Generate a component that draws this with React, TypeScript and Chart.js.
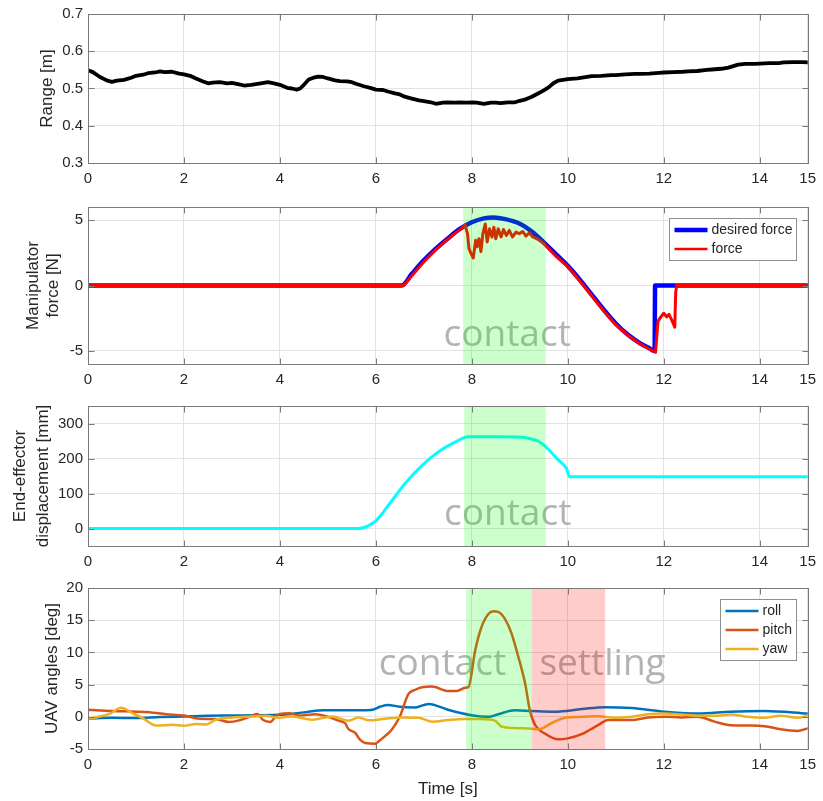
import React, { useEffect, useRef } from "react";
import { Chart, registerables } from "chart.js";

Chart.register(...registerables);

// ---------- data ----------
const X_TICKS = [0, 2, 4, 6, 8, 10, 12, 14, 15];

const rangeTime = [
  0, 0.1, 0.25, 0.4, 0.5, 0.6, 0.75, 0.9, 1.0, 1.15, 1.25, 1.4, 1.5, 1.6, 1.75, 1.9, 2.0, 2.15, 2.25, 2.4,
  2.5, 2.6, 2.75, 2.9, 3.0, 3.15, 3.25, 3.4, 3.5, 3.6, 3.75, 3.9, 4.0, 4.15, 4.25, 4.35, 4.42, 4.5, 4.6, 4.7,
  4.8, 4.9, 5.0, 5.15, 5.25, 5.4, 5.5, 5.6, 5.75, 5.9, 6.0, 6.15, 6.25, 6.4, 6.5, 6.6, 6.75, 6.9, 7.0, 7.15,
  7.25, 7.4, 7.5, 7.65, 7.75, 7.9, 8.0, 8.1, 8.25, 8.4, 8.5, 8.6, 8.75, 8.9, 9.0, 9.1, 9.25, 9.4, 9.5, 9.6,
  9.7, 9.8, 9.9, 10.0, 10.2, 10.4, 10.5, 10.7, 10.9, 11.0, 11.2, 11.4, 11.5, 11.7, 11.9, 12.0, 12.2, 12.4, 12.5, 12.7,
  12.9, 13.0, 13.2, 13.35, 13.45, 13.55, 13.7, 13.9, 14.0, 14.2, 14.4, 14.5, 14.7, 14.9, 15.0,
];
const rangeValue = [
  0.549, 0.544, 0.531, 0.521, 0.518, 0.521, 0.523, 0.529, 0.534, 0.537, 0.541, 0.543, 0.546, 0.544, 0.545, 0.54, 0.538, 0.533, 0.527, 0.519,
  0.514, 0.516, 0.517, 0.514, 0.515, 0.511, 0.508, 0.51, 0.512, 0.514, 0.517, 0.513, 0.51, 0.502, 0.5, 0.497, 0.5, 0.51, 0.524, 0.529,
  0.532, 0.531, 0.527, 0.522, 0.52, 0.519, 0.517, 0.512, 0.506, 0.501, 0.497, 0.496, 0.492, 0.487, 0.484, 0.478, 0.473, 0.468, 0.466, 0.463,
  0.459, 0.462, 0.463, 0.462, 0.463, 0.462, 0.463, 0.462, 0.459, 0.462, 0.462, 0.461, 0.463, 0.463, 0.467, 0.47, 0.478, 0.488, 0.495, 0.503,
  0.514, 0.521, 0.523, 0.525, 0.527, 0.531, 0.533, 0.534, 0.536, 0.536, 0.538, 0.539, 0.539, 0.54, 0.542, 0.543, 0.544, 0.545, 0.546, 0.547,
  0.55, 0.551, 0.553, 0.556, 0.56, 0.564, 0.566, 0.566, 0.567, 0.568, 0.568, 0.57, 0.571, 0.571, 0.57,
];

const desiredForceTime = [0, 6.54, 6.75, 7.0, 7.25, 7.5, 7.75, 8.0, 8.25, 8.45, 8.7, 9.0, 9.25, 9.5, 9.75, 10.0, 10.25, 10.5, 10.75, 11.0, 11.25, 11.5, 11.7, 11.81, 11.82, 15];
const desiredForceValue = [0, 0, 0.89, 1.92, 2.82, 3.6, 4.32, 4.83, 5.13, 5.2, 5.07, 4.72, 4.12, 3.3, 2.4, 1.5, 0.45, -0.7, -1.85, -2.9, -3.75, -4.4, -4.8, -5.0, 0, 0];

const forceTime = [
  0, 6.58, 6.75, 7.0, 7.25, 7.5, 7.75, 7.86, 7.91, 7.94, 7.98, 8.03, 8.08, 8.11, 8.15, 8.19, 8.23, 8.28, 8.32, 8.37,
  8.42, 8.46, 8.5, 8.55, 8.61, 8.66, 8.72, 8.78, 8.85, 8.92, 8.99, 9.06, 9.13, 9.2, 9.27, 9.37, 9.5, 9.75, 10.0, 10.25,
  10.5, 10.75, 11.0, 11.25, 11.5, 11.7, 11.83, 11.88, 11.94, 12.0, 12.06, 12.11, 12.18, 12.23, 12.25, 12.27, 15,
];
const forceValue = [
  0, 0, 0.75, 1.82, 2.74, 3.54, 4.27, 4.62, 3.96, 2.84, 2.47, 2.1, 3.46, 2.96, 3.58, 2.59, 3.96, 4.7, 3.33, 4.33,
  3.71, 4.46, 3.58, 4.33, 3.71, 4.28, 3.83, 4.21, 3.71, 4.08, 3.96, 4.13, 3.78, 4.03, 3.71, 3.55, 3.2, 2.25, 1.45, 0.35,
  -0.8, -1.95, -3.0, -3.8, -4.45, -4.85, -5.1, -2.74, -2.4, -2.12, -2.4, -2.2, -2.74, -3.18, -0.5, 0, 0,
];

const displacementTime = [0, 5.64, 5.8, 5.92, 6.0, 6.13, 6.33, 6.61, 6.96, 7.3, 7.65, 7.93, 8.1, 8.5, 9.04, 9.2, 9.38, 9.52, 9.66, 9.8, 9.97, 10.04, 15];
const displacementValue = [0, 0, 5, 14, 22, 42, 79, 129, 180, 219, 247, 262, 262, 262, 261, 257, 250, 236, 217, 196, 172, 148, 148];

const rollTime = [0, 0.5, 1.0, 1.5, 2.0, 2.5, 3.0, 3.5, 4.0, 4.3, 4.6, 4.9, 5.3, 5.9, 6.1, 6.25, 6.5, 6.82, 7.1, 7.5, 7.99, 8.35, 8.55, 8.9, 9.25, 9.73, 10.29, 10.77, 11.33, 12.02, 12.71, 13.4, 14.1, 15];
const rollValue = [-0.25, -0.15, -0.2, -0.05, 0.05, 0.15, 0.2, 0.25, 0.3, 0.5, 0.8, 1.0, 1.0, 1.05, 1.6, 1.85, 1.55, 1.45, 2.0, 1.1, 0.25, 0.0, 0.4, 1.0, 0.9, 0.8, 1.2, 1.5, 1.35, 0.8, 0.5, 0.8, 0.9, 0.5];

const pitchTime = [
  0, 0.5, 1.0, 1.28, 1.63, 2.0, 2.32, 2.66, 2.94, 3.15, 3.4, 3.53, 3.65, 3.8, 3.92, 4.0, 4.19, 4.39, 4.74, 4.98,
  5.22, 5.36, 5.43, 5.57, 5.67, 5.78, 5.99, 6.06, 6.19, 6.33, 6.5, 6.68, 6.82, 6.96, 7.17, 7.51, 7.69, 7.86, 7.93, 8.07,
  8.2, 8.35, 8.45, 8.55, 8.69, 8.83, 8.97, 9.11, 9.21, 9.32, 9.52, 9.8, 10.0, 10.29, 10.63, 10.84, 11.33, 11.67, 12.02, 12.37,
  12.71, 13.06, 13.4, 13.75, 14.1, 14.44, 14.79, 15,
];
const pitchValue = [
  1.1, 0.9, 0.8, 0.7, 0.4, 0.2, -0.3, -0.35, -0.8, -0.55, 0.1, 0.45, -0.5, -0.8, 0.1, 0.45, 0.55, 0.2, 0.4, 0.05,
  -0.6, -1.0, -1.9, -2.5, -3.55, -4.07, -4.17, -3.8, -3.0, -2.0, 0.05, 3.55, 4.2, 4.6, 4.7, 4.0, 4.0, 4.5, 4.6, 10.3,
  13.9, 16.0, 16.4, 16.3, 15.2, 12.9, 9.3, 5.2, 1.0, -1.3, -2.6, -3.5, -3.35, -2.7, -1.3, -0.5, -0.5, -0.1, 0, -0.1,
  0, -0.75, -1.3, -1.35, -1.45, -1.95, -2.2, -1.8,
];

const yawTime = [
  0, 0.24, 0.45, 0.69, 0.93, 1.14, 1.42, 1.76, 2.0, 2.25, 2.46, 2.66, 3.01, 3.43, 3.7, 3.98, 4.26, 4.67, 5.09, 5.43,
  5.64, 5.85, 6.19, 6.54, 6.89, 7.17, 7.51, 7.86, 8.2, 8.48, 8.62, 8.9, 9.25, 9.39, 9.66, 9.94, 10.29, 10.63, 10.98, 11.33,
  11.67, 12.02, 12.37, 12.71, 13.06, 13.4, 13.75, 14.1, 14.44, 14.79, 15,
];
const yawValue = [
  -0.3, 0.05, 0.45, 1.4, 0.55, -0.2, -1.35, -1.25, -1.4, -1.1, -1.2, -0.45, -0.1, 0.05, 0.15, -0.15, 0.05, -0.45, 0.05, -0.6,
  -0.1, -0.55, -0.3, -0.1, -0.15, -0.75, -0.5, -0.35, -0.35, -0.6, -1.5, -1.75, -1.85, -1.95, -1.0, -0.15, 0, 0.1, -0.15, 0,
  0.4, 0.5, 0.35, 0.15, 0.15, 0.35, 0, -0.15, 0.15, -0.15, 0.15,
];

// phase intervals [start, end] in seconds
const forceContact = [7.82, 9.54];
const displacementContact = [7.84, 9.54];
const anglesContact = [7.88, 9.25];
const anglesSettling = [9.25, 10.78];

// ---------- styling ----------
const W = 823;
const FONT = "'Liberation Sans', Arial, Helvetica, sans-serif";
const NOTE_FONT = "'Open Sans', 'DejaVu Sans', sans-serif";
const TEXT = "#262626";
const GRID = "#e3e3e3";
const BOX = "#7a7a7a";
const GREEN = "rgba(0,255,0,0.2)";
const RED = "rgba(255,0,0,0.2)";
const NOTE = "#b3b3b3";
const AREA_LEFT = 88;
const AREA_RIGHT_PAD = 12;

type Series = { label: string; t: number[]; v: number[]; color: string; width: number; legendWidth: number; smooth: boolean; order: number };
type Band = { range: number[]; color: string };
type Note = { text: string; x: number; y: number };
type PanelSpec = {
  top: number;
  height: number;
  padTop: number;
  bottomH: number;
  yMin: number;
  yMax: number;
  yTicks: number[];
  yDecimals: number;
  yTitle: string[];
  yTitleX: number[];
  series: Series[];
  bands: Band[];
  notes: Note[];
  legend: boolean;
  xTitle?: string;
};

const PANELS: PanelSpec[] = [
  {
    top: 0, height: 193, padTop: 12, bottomH: 30,
    yMin: 0.3, yMax: 0.7, yTicks: [0.3, 0.4, 0.5, 0.6, 0.7], yDecimals: 1,
    yTitle: ["Range [m]"], yTitleX: [47],
    series: [{ label: "range", t: rangeTime, v: rangeValue, color: "#000000", width: 3.8, legendWidth: 3.8, smooth: false, order: 0 }],
    bands: [], notes: [], legend: false,
  },
  {
    top: 193, height: 199, padTop: 10, bottomH: 28,
    yMin: -6, yMax: 6, yTicks: [-5, 0, 5], yDecimals: 0,
    yTitle: ["Manipulator", "force [N]"], yTitleX: [33, 53],
    series: [
      { label: "desired force", t: desiredForceTime, v: desiredForceValue, color: "#0000ff", width: 4.5, legendWidth: 4.5, smooth: true, order: 1 },
      { label: "force", t: forceTime, v: forceValue, color: "#ff0000", width: 3, legendWidth: 2.5, smooth: false, order: 0 },
    ],
    bands: [{ range: forceContact, color: GREEN }],
    notes: [{ text: "contact", x: 7.41, y: -4.6 }],
    legend: true,
  },
  {
    top: 392, height: 182, padTop: 10, bottomH: 28,
    yMin: -50, yMax: 350, yTicks: [0, 100, 200, 300], yDecimals: 0,
    yTitle: ["End-effector", "displacement [mm]"], yTitleX: [20, 43],
    series: [{ label: "displacement", t: displacementTime, v: displacementValue, color: "#00ffff", width: 3, legendWidth: 3, smooth: true, order: 0 }],
    bands: [{ range: displacementContact, color: GREEN }],
    notes: [{ text: "contact", x: 7.42, y: 9 }],
    legend: false,
  },
  {
    top: 574, height: 227, padTop: 13, bottomH: 52,
    yMin: -5, yMax: 20, yTicks: [-5, 0, 5, 10, 15, 20], yDecimals: 0,
    yTitle: ["UAV angles [deg]"], yTitleX: [52],
    series: [
      { label: "roll", t: rollTime, v: rollValue, color: "#0072BD", width: 2.5, legendWidth: 2.5, smooth: true, order: 2 },
      { label: "pitch", t: pitchTime, v: pitchValue, color: "#D95319", width: 2.5, legendWidth: 2.5, smooth: true, order: 1 },
      { label: "yaw", t: yawTime, v: yawValue, color: "#EDB120", width: 2.5, legendWidth: 2.5, smooth: true, order: 0 },
    ],
    bands: [
      { range: anglesContact, color: GREEN },
      { range: anglesSettling, color: RED },
    ],
    notes: [
      { text: "contact", x: 6.06, y: 6.44 },
      { text: "settling", x: 9.41, y: 6.44 },
    ],
    legend: true,
    xTitle: "Time [s]",
  },
];

function makeDecorations(spec: PanelSpec) {
  return {
    id: "panelDecorations",
    beforeDatasetsDraw(chart: any) {
      const { ctx, scales } = chart;
      ctx.save();
      ctx.font = `37px ${NOTE_FONT}`;
      ctx.fillStyle = NOTE;
      ctx.textAlign = "left";
      ctx.textBaseline = "alphabetic";
      for (const n of spec.notes) {
        ctx.fillText(n.text, scales.x.getPixelForValue(n.x), scales.y.getPixelForValue(n.y));
      }
      ctx.restore();
    },
    afterDatasetsDraw(chart: any) {
      const { ctx, chartArea: a, scales } = chart;
      ctx.save();
      // shaded phases
      for (const b of spec.bands) {
        const x0 = scales.x.getPixelForValue(b.range[0]);
        const x1 = scales.x.getPixelForValue(b.range[1]);
        ctx.fillStyle = b.color;
        ctx.fillRect(x0, a.top, x1 - x0, a.bottom - a.top);
      }
      // axes box with inward tick marks
      ctx.strokeStyle = BOX;
      ctx.lineWidth = 1;
      const L = Math.round(a.left) + 0.5, R = Math.round(a.right) + 0.5;
      const T = Math.round(a.top) + 0.5, B = Math.round(a.bottom) + 0.5;
      ctx.strokeRect(L, T, R - L, B - T);
      const tl = 6;
      ctx.beginPath();
      for (const v of X_TICKS) {
        const px = Math.round(scales.x.getPixelForValue(v)) + 0.5;
        ctx.moveTo(px, B); ctx.lineTo(px, B - tl);
        ctx.moveTo(px, T); ctx.lineTo(px, T + tl);
      }
      for (const v of spec.yTicks) {
        const py = Math.round(scales.y.getPixelForValue(v)) + 0.5;
        ctx.moveTo(L, py); ctx.lineTo(L + tl, py);
        ctx.moveTo(R, py); ctx.lineTo(R - tl, py);
      }
      ctx.stroke();
      // legend box
      if (spec.legend) {
        ctx.font = `14px ${FONT}`;
        const maxW = Math.max(...spec.series.map((s) => ctx.measureText(s.label).width));
        const bw = Math.round(42 + maxW + 4);
        const bh = Math.round(23 + (spec.series.length - 1) * 19);
        const bx = Math.round(a.right - 12 - bw) + 0.5;
        const by = Math.round(a.top + 11) + 0.5;
        ctx.fillStyle = "#ffffff";
        ctx.fillRect(bx, by, bw, bh);
        ctx.strokeStyle = "#8f8f8f";
        ctx.strokeRect(bx, by, bw, bh);
        spec.series.forEach((s, i) => {
          const ry = by + 11.5 + i * 19;
          ctx.strokeStyle = s.color;
          ctx.lineWidth = s.legendWidth;
          ctx.beginPath();
          ctx.moveTo(bx + 5, ry);
          ctx.lineTo(bx + 38, ry);
          ctx.stroke();
          ctx.fillStyle = TEXT;
          ctx.textAlign = "left";
          ctx.textBaseline = "middle";
          ctx.fillText(s.label, bx + 42, ry + 0.5);
        });
      }
      ctx.restore();
    },
    afterDraw(chart: any) {
      const { ctx, chartArea: a } = chart;
      ctx.save();
      ctx.fillStyle = TEXT;
      ctx.font = `17px ${FONT}`;
      ctx.textAlign = "center";
      ctx.textBaseline = "middle";
      const cy = (a.top + a.bottom) / 2;
      spec.yTitle.forEach((line, i) => {
        ctx.save();
        ctx.translate(spec.yTitleX[i], cy);
        ctx.rotate(-Math.PI / 2);
        ctx.fillText(line, 0, 0);
        ctx.restore();
      });
      if (spec.xTitle) {
        ctx.fillText(spec.xTitle, (a.left + a.right) / 2, a.bottom + 40);
      }
      ctx.restore();
    },
  };
}

function Panel({ spec }: { spec: PanelSpec }) {
  const ref = useRef<HTMLCanvasElement>(null);
  useEffect(() => {
    const canvas = ref.current;
    if (!canvas) return;
    const chart = new Chart(canvas, {
      type: "line",
      data: {
        datasets: spec.series.map((s) => ({
          label: s.label,
          data: s.t.map((t, i) => ({ x: t, y: s.v[i] })),
          borderColor: s.color,
          backgroundColor: s.color,
          borderWidth: s.width,
          pointRadius: 0,
          fill: false,
          order: s.order,
          tension: 0,
          cubicInterpolationMode: s.smooth ? "monotone" : "default",
          borderJoinStyle: "round",
          borderCapStyle: "round",
        })),
      },
      options: {
        animation: false,
        responsive: false,
        maintainAspectRatio: false,
        devicePixelRatio: 1,
        events: [],
        layout: { padding: { top: spec.padTop, right: AREA_RIGHT_PAD, left: 0, bottom: 0 } },
        plugins: { legend: { display: false }, tooltip: { enabled: false } },
        scales: {
          x: {
            type: "linear",
            min: 0,
            max: 15,
            afterBuildTicks: (s: any) => {
              s.ticks = X_TICKS.map((v) => ({ value: v }));
            },
            afterFit: (s: any) => {
              s.height = spec.bottomH;
            },
            ticks: {
              padding: 7,
              color: TEXT,
              font: { family: FONT, size: 15 },
              maxRotation: 0,
              autoSkip: false,
              callback: (v: any) => String(v),
            },
            grid: { color: GRID, drawTicks: false, lineWidth: 1 },
            border: { display: false },
          },
          y: {
            type: "linear",
            min: spec.yMin,
            max: spec.yMax,
            afterBuildTicks: (s: any) => {
              s.ticks = spec.yTicks.map((v) => ({ value: v }));
            },
            afterFit: (s: any) => {
              s.width = AREA_LEFT;
            },
            ticks: {
              padding: 5,
              color: TEXT,
              font: { family: FONT, size: 15 },
              autoSkip: false,
              callback: (v: any) => Number(v).toFixed(spec.yDecimals),
            },
            grid: { color: GRID, drawTicks: false, lineWidth: 1 },
            border: { display: false },
          },
        },
      },
      plugins: [makeDecorations(spec)],
    } as any);
    return () => chart.destroy();
  }, [spec]);
  return (
    <canvas
      ref={ref}
      width={W}
      height={spec.height}
      style={{ position: "absolute", left: 0, top: spec.top, width: W, height: spec.height, display: "block" }}
    />
  );
}

export default function App() {
  return (
    <div style={{ position: "absolute", left: 0, top: 0, width: W, height: 801, background: "#ffffff", overflow: "hidden" }}>
      {PANELS.map((p, i) => (
        <Panel key={i} spec={p} />
      ))}
    </div>
  );
}
